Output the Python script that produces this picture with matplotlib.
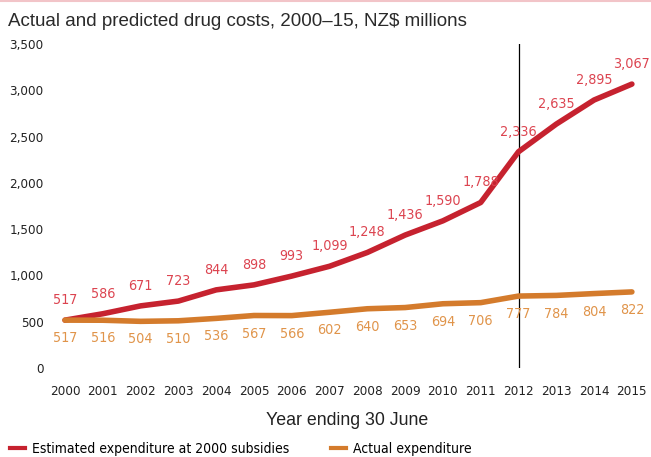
import matplotlib
matplotlib.use("Agg")
import matplotlib.pyplot as plt
from matplotlib.lines import Line2D

years = list(range(2000, 2016))
estimated = [517, 586, 671, 723, 844, 898, 993, 1099, 1248, 1436, 1590, 1788, 2336, 2635, 2895, 3067]
actual = [517, 516, 504, 510, 536, 567, 566, 602, 640, 653, 694, 706, 777, 784, 804, 822]
yticks = [0, 500, 1000, 1500, 2000, 2500, 3000, 3500]

red = '#c6222f'
red_txt = '#dc4450'
orange = '#d47b2c'
orange_txt = '#e0944a'
narrow = {'family': 'DejaVu Sans', 'fontstretch': 'condensed'}

W, H = 651, 457
fig = plt.figure(figsize=(W / 100, H / 100), dpi=100)
ax = fig.add_axes([48 / W, (H - 368) / H, 599 / W, 324 / H])

ax.plot(years, estimated, color=red, linewidth=4, solid_capstyle='round', zorder=3)
ax.plot(years, actual, color=orange, linewidth=4, solid_capstyle='round', zorder=3)
ax.axvline(2012, color='black', linewidth=0.9, zorder=2)

for x, v in zip(years, estimated):
    ax.annotate(f'{v:,}', (x, v), xytext=(0, 9.5), textcoords='offset points',
                ha='center', va='bottom', color=red_txt, fontsize=10.3, **narrow)
for x, v in zip(years, actual):
    ax.annotate(f'{v:,}', (x, v), xytext=(0, -8), textcoords='offset points',
                ha='center', va='top', color=orange_txt, fontsize=10.3, **narrow)

ax.set_xlim(1999.55, 2015.4)
ax.set_ylim(0, 3500)
ax.set_xticks(years)
ax.set_xticklabels([str(y) for y in years], fontsize=9.6, **narrow)
ax.set_yticks(yticks)
ax.set_yticklabels([f'{t:,}' for t in yticks], fontsize=9.6, **narrow)
ax.tick_params(axis='x', length=0, pad=12, colors='#222222')
ax.tick_params(axis='y', length=0, pad=3, colors='#222222')
for s in ax.spines.values():
    s.set_visible(False)

ax.set_xlabel('Year ending 30 June', family=['Liberation Sans', 'DejaVu Sans'],
              fontsize=12.8, color='#222222', labelpad=10.5)

fig.text(8 / W, 1 - 21 / H, 'Actual and predicted drug costs, 2000\u201315, NZ$ millions',
         family=['Liberation Sans', 'DejaVu Sans'], fontsize=13.5, color='#2a2a2a',
         ha='left', va='center')
fig.add_artist(Line2D([0, 1], [1 - 1 / H, 1 - 1 / H], color='#f2c4c8', linewidth=1.5))

handles = [Line2D([], [], color=red, linewidth=3),
           Line2D([], [], color=orange, linewidth=3)]
fig.legend(handles, ['Estimated expenditure at 2000 subsidies', 'Actual expenditure'],
           loc='center left', bbox_to_anchor=(10 / W, (H - 449) / H), ncol=2, frameon=False,
           borderpad=0, borderaxespad=0,
           handlelength=1.1, handletextpad=0.5, columnspacing=3.0,
           prop={'family': 'DejaVu Sans', 'stretch': 'condensed', 'size': 10})

fig.savefig('out.png', dpi=100)
